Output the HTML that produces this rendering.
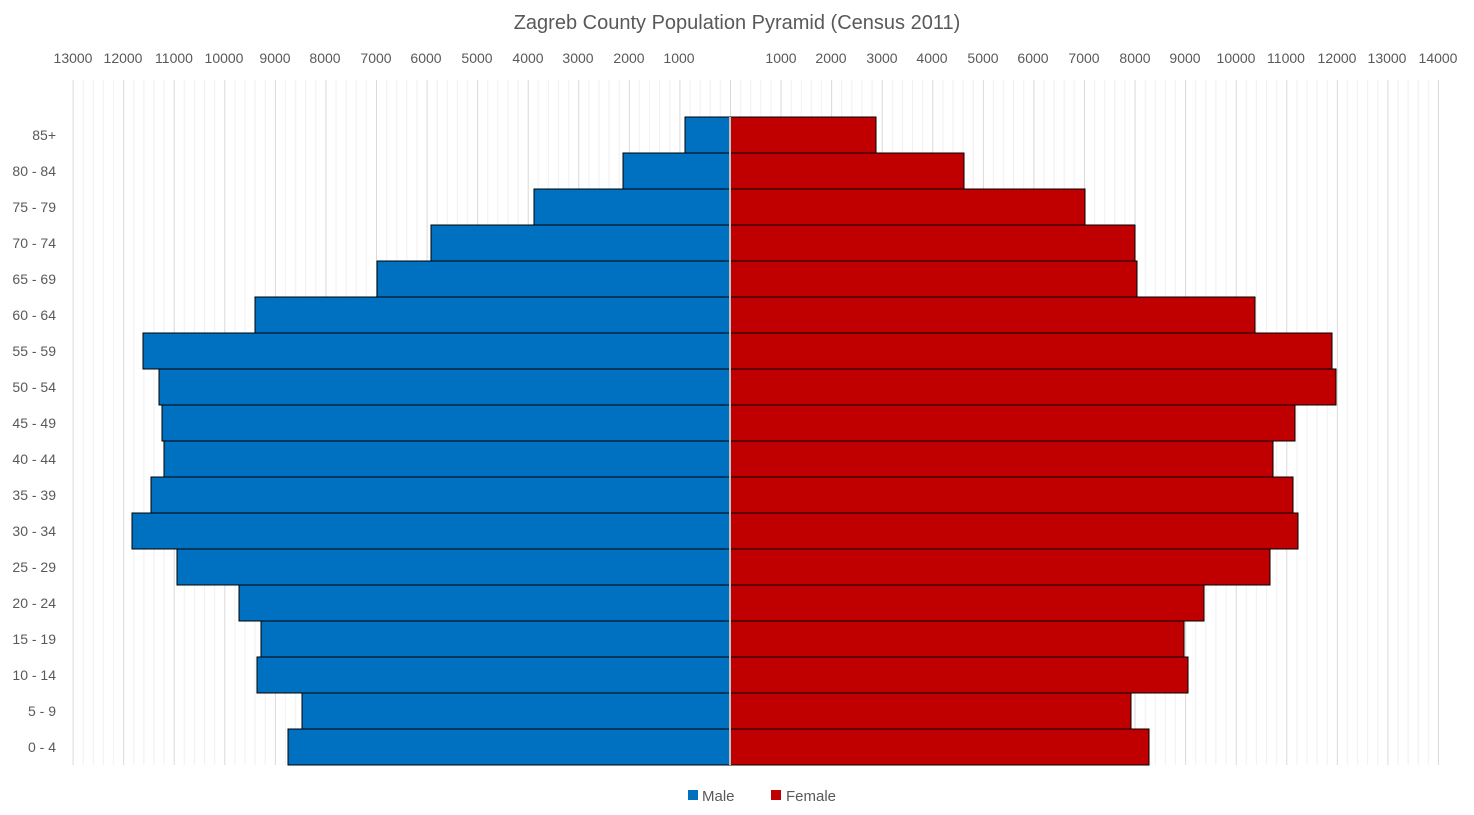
<!DOCTYPE html>
<html><head><meta charset="utf-8"><style>
html,body{margin:0;padding:0;background:#fff;}
svg{display:block;font-family:"Liberation Sans",sans-serif;}
</style></head><body>
<svg width="1474" height="815" viewBox="0 0 1474 815" xmlns="http://www.w3.org/2000/svg">
<defs>
<pattern id="g" x="730" y="0" width="50.57" height="815" patternUnits="userSpaceOnUse">
<line x1="0.5" y1="0" x2="0.5" y2="815" stroke="#d9d9d9" stroke-width="1"/>
<line x1="10.6" y1="0" x2="10.6" y2="815" stroke="#f0f0f0" stroke-width="1"/>
<line x1="20.7" y1="0" x2="20.7" y2="815" stroke="#f0f0f0" stroke-width="1"/>
<line x1="30.8" y1="0" x2="30.8" y2="815" stroke="#f0f0f0" stroke-width="1"/>
<line x1="40.9" y1="0" x2="40.9" y2="815" stroke="#f0f0f0" stroke-width="1"/>
</pattern>
</defs>
<rect width="1474" height="815" fill="#fff"/>
<rect x="70" y="80" width="1370" height="685" fill="url(#g)"/>
<text x="737" y="29" text-anchor="middle" font-size="20" fill="#595959">Zagreb County Population Pyramid (Census 2011)</text>
<g font-size="14" fill="#595959" text-anchor="middle">
<text x="73" y="63">13000</text><text x="123" y="63">12000</text><text x="174" y="63">11000</text><text x="224" y="63">10000</text><text x="275" y="63">9000</text><text x="325" y="63">8000</text><text x="376" y="63">7000</text><text x="426" y="63">6000</text><text x="477" y="63">5000</text><text x="528" y="63">4000</text><text x="578" y="63">3000</text><text x="629" y="63">2000</text><text x="679" y="63">1000</text>
<text x="781" y="63">1000</text><text x="831" y="63">2000</text><text x="882" y="63">3000</text><text x="932" y="63">4000</text><text x="983" y="63">5000</text><text x="1033" y="63">6000</text><text x="1084" y="63">7000</text><text x="1135" y="63">8000</text><text x="1185" y="63">9000</text><text x="1236" y="63">10000</text><text x="1286" y="63">11000</text><text x="1337" y="63">12000</text><text x="1387" y="63">13000</text><text x="1438" y="63">14000</text>
</g>
<g stroke="#000" stroke-width="1">
<g fill="#0070c0">
<rect x="685" y="117" width="44.5" height="36"/>
<rect x="623" y="153" width="106.5" height="36"/>
<rect x="534" y="189" width="195.5" height="36"/>
<rect x="431" y="225" width="298.5" height="36"/>
<rect x="377" y="261" width="352.5" height="36"/>
<rect x="255" y="297" width="474.5" height="36"/>
<rect x="143" y="333" width="586.5" height="36"/>
<rect x="159" y="369" width="570.5" height="36"/>
<rect x="162" y="405" width="567.5" height="36"/>
<rect x="164" y="441" width="565.5" height="36"/>
<rect x="151" y="477" width="578.5" height="36"/>
<rect x="132" y="513" width="597.5" height="36"/>
<rect x="177" y="549" width="552.5" height="36"/>
<rect x="239" y="585" width="490.5" height="36"/>
<rect x="261" y="621" width="468.5" height="36"/>
<rect x="257" y="657" width="472.5" height="36"/>
<rect x="302" y="693" width="427.5" height="36"/>
<rect x="288" y="729" width="441.5" height="36"/>
</g>
<g fill="#c00000">
<rect x="730.5" y="117" width="145.5" height="36"/>
<rect x="730.5" y="153" width="233.5" height="36"/>
<rect x="730.5" y="189" width="354.5" height="36"/>
<rect x="730.5" y="225" width="404.5" height="36"/>
<rect x="730.5" y="261" width="406.5" height="36"/>
<rect x="730.5" y="297" width="524.5" height="36"/>
<rect x="730.5" y="333" width="601.5" height="36"/>
<rect x="730.5" y="369" width="605.5" height="36"/>
<rect x="730.5" y="405" width="564.5" height="36"/>
<rect x="730.5" y="441" width="542.5" height="36"/>
<rect x="730.5" y="477" width="562.5" height="36"/>
<rect x="730.5" y="513" width="567.5" height="36"/>
<rect x="730.5" y="549" width="539.5" height="36"/>
<rect x="730.5" y="585" width="473.5" height="36"/>
<rect x="730.5" y="621" width="453.5" height="36"/>
<rect x="730.5" y="657" width="457.5" height="36"/>
<rect x="730.5" y="693" width="400.5" height="36"/>
<rect x="730.5" y="729" width="418.5" height="36"/>
</g>
</g>
<line x1="730" y1="117" x2="730" y2="765" stroke="#fff" stroke-width="1.5"/>
<g font-size="14" fill="#595959" text-anchor="end">
<text x="56" y="140">85+</text><text x="56" y="176">80 - 84</text><text x="56" y="212">75 - 79</text><text x="56" y="248">70 - 74</text><text x="56" y="284">65 - 69</text><text x="56" y="320">60 - 64</text><text x="56" y="356">55 - 59</text><text x="56" y="392">50 - 54</text><text x="56" y="428">45 - 49</text><text x="56" y="464">40 - 44</text><text x="56" y="500">35 - 39</text><text x="56" y="536">30 - 34</text><text x="56" y="572">25 - 29</text><text x="56" y="608">20 - 24</text><text x="56" y="644">15 - 19</text><text x="56" y="680">10 - 14</text><text x="56" y="716">5 - 9</text><text x="56" y="752">0 - 4</text>
</g>
<rect x="688" y="790" width="10" height="10" fill="#0070c0"/>
<text x="702" y="801" font-size="15" fill="#595959">Male</text>
<rect x="771" y="790" width="10" height="10" fill="#c00000"/>
<text x="786" y="801" font-size="15" fill="#595959">Female</text>
</svg>
</body></html>
